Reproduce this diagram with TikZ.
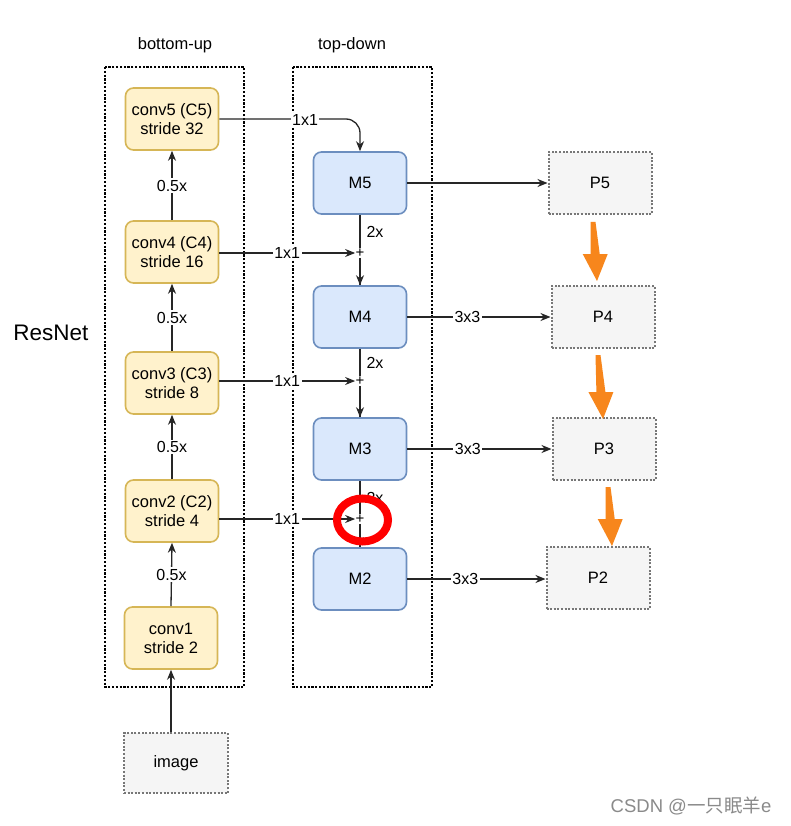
\documentclass[tikz,border=0pt]{standalone}
\usepackage{fontspec}
\setmainfont{Liberation Sans}
\newfontfamily\cjk{Noto Sans CJK SC}
\usetikzlibrary{arrows.meta}
\definecolor{yfill}{HTML}{FFF2CC}
\definecolor{ydraw}{HTML}{D6B656}
\definecolor{bfill}{HTML}{DAE8FC}
\definecolor{bdraw}{HTML}{6C8EBF}
\definecolor{pfill}{HTML}{F5F5F5}
\definecolor{pdraw}{HTML}{777777}
\definecolor{orangearr}{HTML}{F7861C}
\definecolor{wmark}{HTML}{8A8A8A}
\tikzset{
  frame/.style={draw=black, line width=2.4pt, dash pattern=on 2.2pt off 1.6pt},
  convbox/.style={draw=ydraw, fill=yfill, line width=1.6pt, rounded corners=8pt,
    minimum width=93pt, minimum height=62pt, align=center, inner sep=0pt, font=\fontsize{16.5}{19}\selectfont},
  mbox/.style={draw=bdraw, fill=bfill, line width=1.6pt, rounded corners=8pt,
    minimum width=93pt, minimum height=62pt, inner sep=0pt, font=\fontsize{16.5}{19}\selectfont},
  pbox/.style={draw=pdraw, fill=pfill, line width=2pt, dash pattern=on 2pt off 1.6pt,
    minimum width=103pt, minimum height=62pt, inner sep=0pt, font=\fontsize{16.5}{19}\selectfont},
  lbl/.style={fill=white, inner sep=1.5pt, font=\fontsize{16}{18}\selectfont},
  side/.style={right=3pt, font=\fontsize{16}{18}\selectfont},
  plus/.style={inner sep=0.3pt, font=\fontsize{15}{15}\selectfont},
  arr/.style={draw=black!85, line width=1.3pt, -{Stealth[length=10pt,width=8pt]}},
  ln/.style={draw=black!85, line width=1.3pt},
  orfill/.style={fill=orangearr},
}
\begin{document}
\begin{tikzpicture}[x=1pt,y=-1pt, font=\fontsize{16.5}{19}\selectfont]
\useasboundingbox (0,0) rectangle (790,826);
\fill[white] (0,0) rectangle (790,826);

% frames and titles
\draw[frame] (105,67) rectangle (244,687);
\draw[frame] (293,67) rectangle (432,687);
\node (tbu) at (175,45) {bottom-up};
\node (ttd) at (352,45) {top-down};
\node[font=\fontsize{22.5}{26}\selectfont] (resnet) at (51,333) {ResNet};

% bottom-up column
\node[convbox] (c5) at (172,119) {conv5 (C5)\\stride 32};
\node[convbox] (c4) at (172,252) {conv4 (C4)\\stride 16};
\node[convbox] (c3) at (172,383) {conv3 (C3)\\stride 8};
\node[convbox] (c2) at (172,511) {conv2 (C2)\\stride 4};
\node[convbox] (c1) at (171,638) {conv1\\stride 2};
\node[pbox, minimum width=104pt, minimum height=60pt] (img) at (176,763) {image};

\draw[arr] (img.north -| c1) -- (c1.south);
\draw[arr] (c1.north) -- node[lbl] (h1) {0.5x} (c2.south);
\draw[arr] (c2.north) -- node[lbl] (h2) {0.5x} (c3.south);
\draw[arr] (c3.north) -- node[lbl] (h3) {0.5x} (c4.south);
\draw[arr] (c4.north) -- node[lbl] (h4) {0.5x} (c5.south);

% top-down column
\node[mbox] (m5) at (360,183) {M5};
\node[mbox] (m4) at (360,317) {M4};
\node[mbox] (m3) at (360,449) {M3};
\node[mbox] (m2) at (360,579) {M2};

\draw[ln] (m5.south) -- (m4.north);
\draw[ln] (m4.south) -- (m3.north);
\draw[ln] (m3.south) -- (m2.north);

\node[plus, fill=white] (s4) at (360,253) {+};
\node[plus, fill=white] (s3) at (360,381) {+};
\node[plus, fill=white] (s2) at (360,519) {+};

\draw[arr, rounded corners=14pt] (c5.east) -| (m5.north);
\node[lbl] (l5) at (305,120) {1x1};
\draw[arr] (c4.east |- s4.west) -- node[lbl, pos=0.5] (l4) {1x1} (s4.west);
\draw[arr] (c3.east |- s3.west) -- node[lbl, pos=0.5] (l3) {1x1} (s3.west);
\draw[arr] (c2.east |- s2.west) -- node[lbl, pos=0.5] (l2) {1x1} (s2.west);

\path (m5.south) -- node[side] (u4) {2x} (s4.north);
\draw[arr] (s4.south) -- (m4.north);
\path (m4.south) -- node[side] (u3) {2x} (s3.north);
\draw[arr] (s3.south) -- (m3.north);
\path (m3.south) -- node[side] (u2) {2x} (s2.north);
\draw[arr] (s2.south) -- (m2.north);

% output column
\node[pbox] (p5) at (600,183) {P5};
\node[pbox] (p4) at (603,317) {P4};
\node[pbox] (p3) at (604,449) {P3};
\node[pbox] (p2) at (598,578) {P2};

\draw[arr] (m5.east) -- (p5.west |- m5.east);
\draw[arr] (m4.east) -- node[lbl, pos=0.42] (k4) {3x3} (p4.west |- m4.east);
\draw[arr] (m3.east) -- node[lbl, pos=0.42] (k3) {3x3} (p3.west |- m3.east);
\draw[arr] (m2.east) -- node[lbl, pos=0.42] (k2) {3x3} (p2.west |- m2.east);

% orange arrows (tapered)
\fill[orfill] (590.5,222) -- (595.5,222) -- (599.7,254) -- (607.7,254) -- (597,281) -- (582.7,254) -- (590.7,254) -- cycle;
\fill[orfill] (595.5,355) -- (600.5,355) -- (605.4,392) -- (613.4,392) -- (603,419) -- (588.4,392) -- (596.4,392) -- cycle;
\fill[orfill] (605.5,487) -- (610.5,487) -- (614.7,519) -- (622.7,519) -- (612,546) -- (597.7,519) -- (605.7,519) -- cycle;

% red annotation
\draw[red, line width=8pt] (362.5,520) ellipse [x radius=25.5, y radius=21.5];

% watermark
\node[text=wmark, font=\fontsize{18.5}{22}\selectfont] (wm) at (691,806) {CSDN @{\cjk 一只眠羊}e};
\end{tikzpicture}
\end{document}
